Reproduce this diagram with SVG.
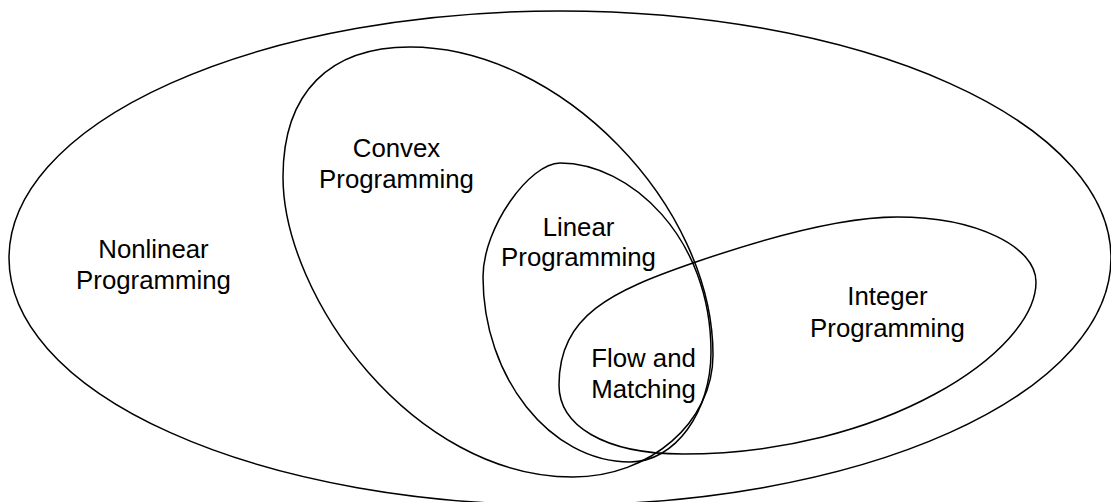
<svg xmlns="http://www.w3.org/2000/svg" width="1111" height="502" viewBox="0 0 1111 502">
  <style>
    .set { fill: none; stroke: #000; stroke-width: 1.5; }
    .label { font-family: "Liberation Sans", Arial, sans-serif; font-size: 25.8px; fill: #000; text-anchor: middle; }
  </style>
  <rect width="1111" height="502" fill="#fff"/>

  <g id="nonlinear-programming">
    <ellipse class="set" cx="560" cy="258" rx="551" ry="247"/>
    <text class="label" x="153.5" y="258.3">Nonlinear</text>
    <text class="label" x="153.5" y="289.3">Programming</text>
  </g>

  <g id="convex-programming">
    <path class="set" d="M 410,47 C 330,47 283,92 283,177 C 283,297 413,477 573,477 C 650,477 713,422 713,355 C 713,205 560,47 410,47 Z"/>
    <text class="label" x="396.5" y="156.7">Convex</text>
    <text class="label" x="396.5" y="188">Programming</text>
  </g>

  <g id="linear-programming">
    <path class="set" d="M 560,163 C 530,163 483,227 483,277 C 483,377 550,462 630,462 C 675,462 711,412 711,352 C 711,237 630,163 560,163 Z"/>
    <text class="label" x="578.5" y="235.5">Linear</text>
    <text class="label" x="578.5" y="266">Programming</text>
  </g>

  <g id="integer-programming">
    <path class="set" d="M 559,385 C 559,315 612.7,290.8 693,263 C 759.2,240.1 837,217 897,217 C 977,217 1036,247 1036,282 C 1036,352 883,454 683,454 C 603,454 559,425 559,385 Z"/>
    <text class="label" x="887.5" y="305">Integer</text>
    <text class="label" x="887.5" y="336.7">Programming</text>
  </g>

  <g id="flow-and-matching">
    <text class="label" x="643.5" y="367">Flow and</text>
    <text class="label" x="643.5" y="397.5">Matching</text>
  </g>
</svg>
